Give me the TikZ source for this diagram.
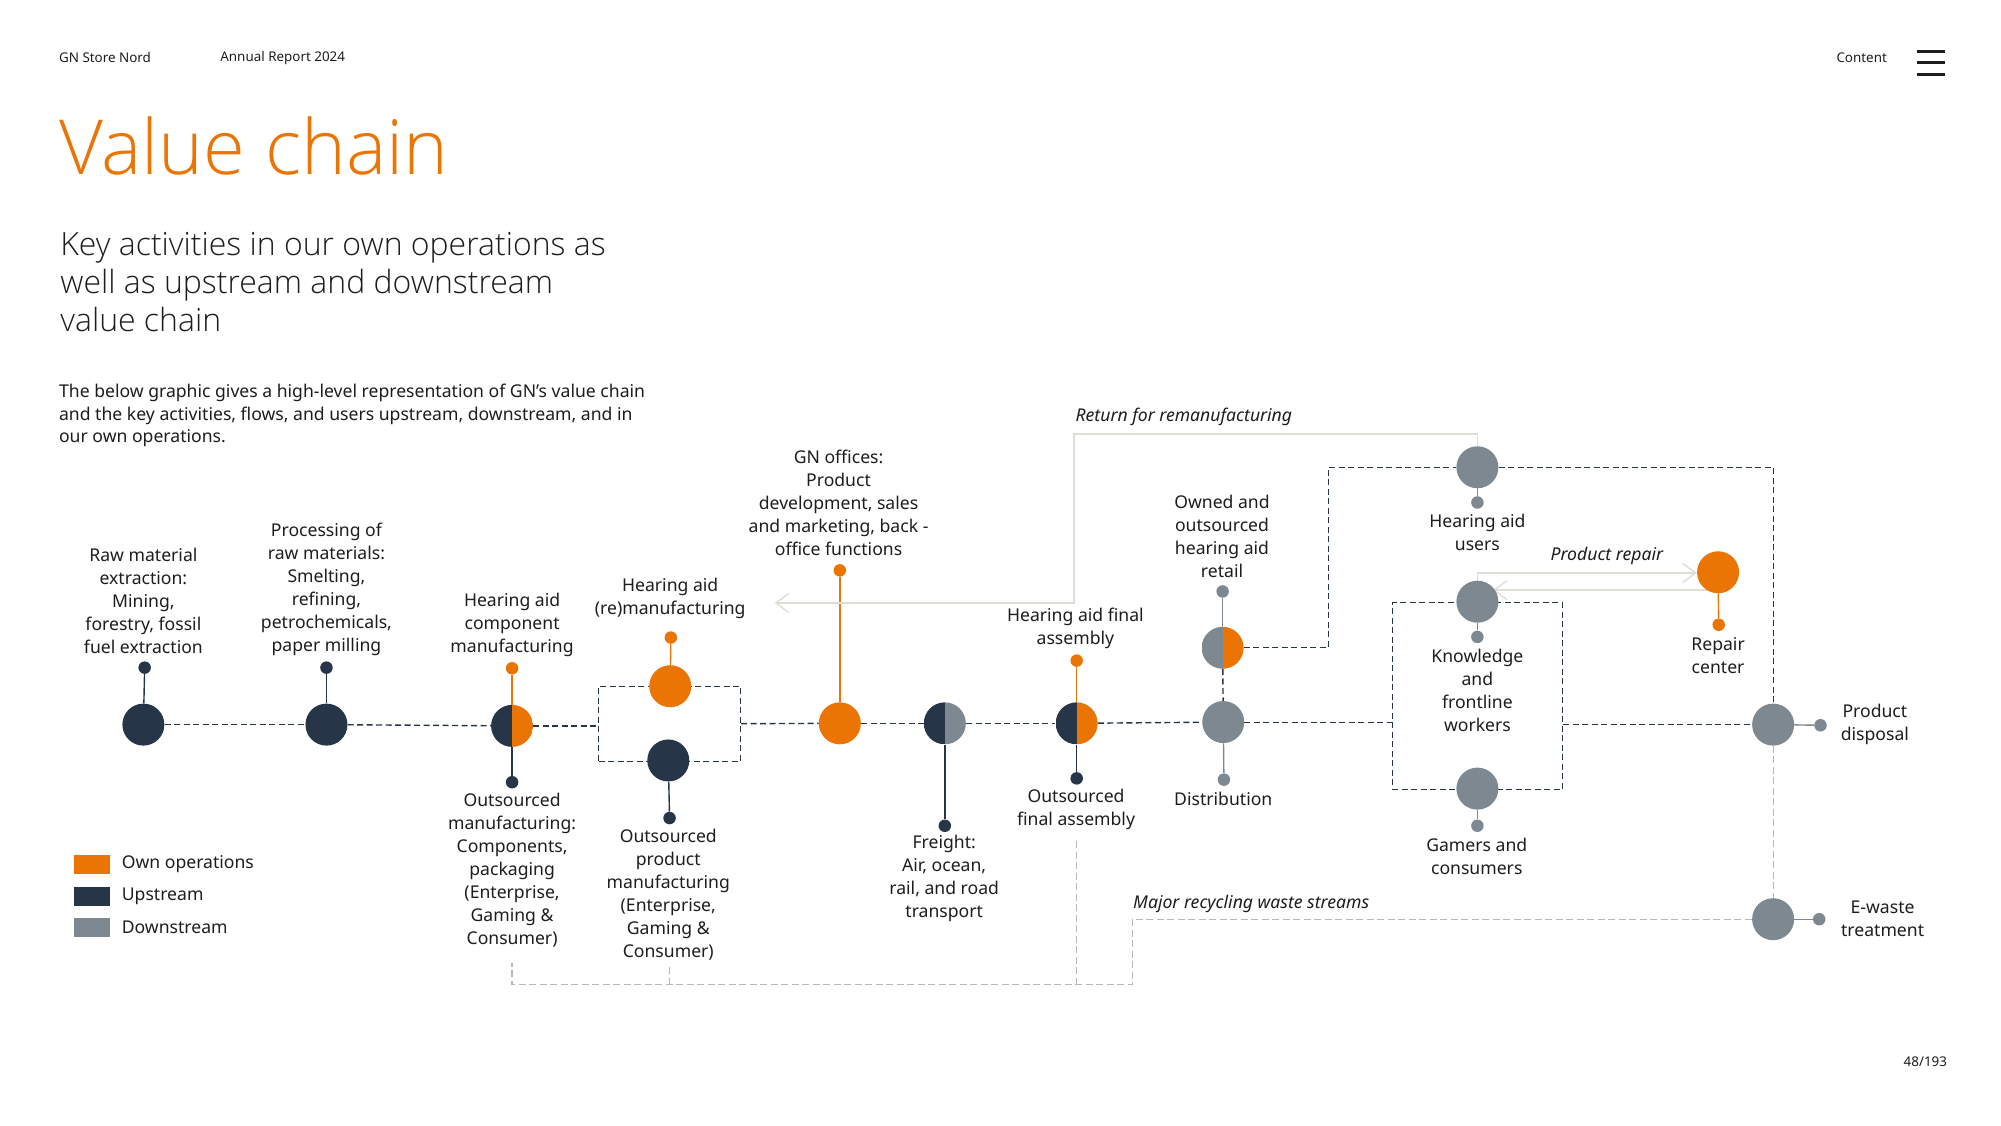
\documentclass[tikz,border=0pt]{standalone}
\usepackage{fontspec}
\usetikzlibrary{arrows.meta,backgrounds,calc}
\setmainfont{Noto Sans}
\newfontfamily\lightf{Open Sans Light}
\definecolor{own}{HTML}{EA7404}
\definecolor{up}{HTML}{263648}
\definecolor{down}{HTML}{7E8890}
\definecolor{flow}{HTML}{DEDDD6}
\definecolor{waste}{HTML}{BDB8AF}
\definecolor{ink}{HTML}{1D1D1B}
\tikzset{
  big/.style={circle,minimum size=42pt,inner sep=0pt,fill=#1},
  dot/.style={circle,minimum size=12.5pt,inner sep=0pt,fill=#1},
  split/.style 2 args={circle,minimum size=42pt,inner sep=0pt,path picture={
    \fill[#1] (path picture bounding box.south west) rectangle (path picture bounding box.north);
    \fill[#2] (path picture bounding box.south) rectangle (path picture bounding box.north east);}},
  stem/.style={draw=#1,line width=1.4pt},
  chain/.style={draw=up,line width=1.4pt,dash pattern=on 6pt off 3.5pt},
  thin chain/.style={draw=up,line width=1pt,dash pattern=on 6pt off 3.5pt},
  wastepath/.style={draw=waste,line width=1.2pt,dash pattern=on 7pt off 3.5pt},
  flowpath/.style={draw=flow,line width=1.6pt},
  barb/.style={-{Straight Barb[length=13pt,width=19pt,line width=1.4pt]}},
  lab/.style={align=center,inner sep=0pt,text=ink,font=\fontsize{17.6}{23}\selectfont},
  note/.style={anchor=west,inner sep=0pt,text=ink,font=\fontsize{17.6}{23}\selectfont\itshape},
  small/.style={inner sep=0pt,text=ink,font=\fontsize{13.4}{16}\selectfont},
  key/.style={anchor=west,inner sep=0pt,minimum width=36pt,minimum height=19pt,fill=#1},
  keytext/.style={anchor=west,inner sep=0pt,text=ink,font=\fontsize{17.6}{23}\selectfont},
}
\begin{document}
\begin{tikzpicture}[x=1.2802pt,y=-1.2802pt]
\useasboundingbox (0,0) rectangle (1563,878.8);
% header
\node[small,anchor=west] (hd1) at (46,45) {GN Store Nord};
\node[small,anchor=west] (hd2) at (172,45) {Annual Report 2024};
\node[small,anchor=east] (hd3) at (1474,45) {Content};
\node[small,anchor=east] (pg) at (1521,829) {48/193};
\draw[ink,line width=2.6pt] (1497,40)--(1519,40) (1497,49)--(1519,49) (1497,58)--(1519,58);
\node[anchor=west,inner sep=0pt,text=own,font=\lightf\fontsize{76}{80}\selectfont] (title) at (46,114) {Value chain};
\node[anchor=north west,align=left,inner sep=0pt,text=ink,font=\lightf\fontsize{32}{38}\selectfont] (sub) at (47,181) {Key activities in our own operations as\\well as upstream and downstream\\value chain};
\node[anchor=north west,align=left,inner sep=0pt,text=ink,font=\fontsize{17.6}{22.6}\selectfont] (intro) at (46,300) {The below graphic gives a high-level representation of GN’s value chain\\and the key activities, flows, and users upstream, downstream, and in\\our own operations.};
% legend
\node[key=own] (k1) at (58,675) {}; \node[keytext] (kt1) at (95,675) {Own operations};
\node[key=up] (k2) at (58,700.5) {}; \node[keytext] (kt2) at (95,700.5) {Upstream};
\node[key=down] (k3) at (58,724.5) {}; \node[keytext] (kt3) at (95,724.5) {Downstream};
% group boxes
\node[draw=up,line width=1.2pt,dash pattern=on 6pt off 3.5pt,minimum width=142pt,minimum height=75pt,inner sep=0pt] (box1) at (523,565.25) {};
\node[draw=up,line width=1pt,dash pattern=on 6pt off 3.5pt,minimum width=170.3pt,minimum height=186.3pt,inner sep=0pt] (box2) at (1154,543.75) {};
% main nodes
\node[big=up] (n1) at (112,566) {};
\node[big=up] (n2) at (255,566) {};
\node[split={up}{own}] (n3) at (400,567) {};
\node[big=own] (n4a) at (523.5,536) {};
\node[big=up] (n4b) at (522,594) {};
\node[big=own] (n5) at (656,565) {};
\node[split={up}{down}] (n6) at (738,565) {};
\node[split={up}{own}] (n7) at (841,565) {};
\node[split={down}{own}] (n8) at (955,506) {};
\node[big=down] (n9) at (955.5,564) {};
\node[big=down] (n10) at (1154,365) {};
\node[big=down] (n11) at (1154,470) {};
\node[big=down] (n12) at (1154,616) {};
\node[big=own] (n13) at (1342,447) {};
\node[big=down] (n14) at (1385,566) {};
\node[big=down] (n15) at (1385,718) {};
% dots
\node[dot=up] (d1) at (113,521.5) {};
\node[dot=up] (d2) at (255,521.5) {};
\node[dot=own] (d3a) at (400,522) {};
\node[dot=up] (d3b) at (400,611) {};
\node[dot=own] (d4a) at (524,498) {};
\node[dot=up] (d4b) at (523,639) {};
\node[dot=own] (d5) at (656,445.5) {};
\node[dot=up] (d6) at (738,645) {};
\node[dot=own] (d7a) at (841,516) {};
\node[dot=up] (d7b) at (841,608) {};
\node[dot=down] (d8) at (955,462) {};
\node[dot=down] (d9) at (956,609) {};
\node[dot=down] (d10) at (1154,392.5) {};
\node[dot=down] (d11) at (1154,497.5) {};
\node[dot=down] (d12) at (1154,645) {};
\node[dot=own] (d13) at (1342.5,488) {};
\node[dot=down] (d14) at (1422,566.5) {};
\node[dot=down] (d15) at (1421,718) {};
% labels
\node[lab] (t1) at (112,469) {Raw material\\extraction:\\Mining,\\forestry, fossil\\fuel extraction};
\node[lab] (t2) at (255,460) {Processing of\\raw materials:\\Smelting,\\refining,\\petrochemicals,\\paper milling};
\node[lab] (t3a) at (400,488.5) {Hearing aid\\component\\manufacturing};
\node[lab] (t3b) at (400,679.5) {Outsourced\\manufacturing:\\Components,\\packaging\\(Enterprise,\\Gaming \&\\Consumer)};
\node[lab] (t4a) at (523.5,467.5) {Hearing aid\\(re)manufacturing};
\node[lab] (t4b) at (522,698.5) {Outsourced\\product\\manufacturing\\(Enterprise,\\Gaming \&\\Consumer)};
\node[lab] (t5) at (655,393) {GN offices:\\Product\\development, sales\\and marketing, back -\\office functions};
\node[lab] (t6) at (737.5,686) {Freight:\\Air, ocean,\\rail, and road\\transport};
\node[lab] (t7a) at (840,491) {Hearing aid final\\assembly};
\node[lab] (t7b) at (840.5,632) {Outsourced\\final assembly};
\node[lab] (t8) at (954.5,419) {Owned and\\outsourced\\hearing aid\\retail};
\node[lab] (t9) at (955.5,624) {Distribution};
\node[lab] (t10) at (1154,416) {Hearing aid\\users};
\node[lab] (t11) at (1154,539.5) {Knowledge\\and\\frontline\\workers};
\node[lab] (t12) at (1153.5,669) {Gamers and\\consumers};
\node[lab] (t13) at (1342,512) {Repair\\center};
\node[lab] (t14) at (1464.5,566) {Product\\disposal};
\node[lab] (t15) at (1470.5,718) {E-waste\\treatment};
\node[note] (r1) at (840,326) {Return for remanufacturing};
\node[note] (r2) at (885,706) {Major recycling waste streams};
\node[note] (r3) at (1211,434) {Product repair};
% helper corners
\coordinate (c1) at (1037.5,435);
\coordinate (ret1) at (1154,339);
\coordinate (ret2) at (839,339);
\coordinate (ret3) at (839,471);
\coordinate (ret4) at (605,471);
\coordinate (rep1) at (1154,447.5);
\coordinate (rep2) at (1166,461);
\coordinate (w1) at (884.5,718);
\coordinate (w2) at (884.5,769);
\coordinate (w3) at (400,769);
\coordinate (w4) at (400,752);
\coordinate (w5) at (523,769);
\coordinate (w6) at (523,755);
\coordinate (w7) at (841,769);
\coordinate (w8) at (841,657);
\begin{scope}[on background layer]
\foreach \a/\b/\c in {n1/d1/up,n2/d2/up,n3/d3a/own,n3/d3b/up,n4a/d4a/own,n4b/d4b/up,n5/d5/own,n6/d6/up,n7/d7a/own,n7/d7b/up,n8/d8/down,n9/d9/down,n10/d10/down,n11/d11/down,n12/d12/down,n13/d13/own,n14/d14/down,n15/d15/down}
  \draw[stem=\c] (\a) -- (\b);
\draw[chain] (n1) -- (n2);
\draw[chain] (n2) -- (n3);
\draw[chain] (n3) -- (n3 -| box1.west);
\draw[chain] (box1.east) -- (n5);
\draw[chain] (n5) -- (n6);
\draw[chain] (n6) -- (n7);
\draw[chain] (n7) -- (n9);
\draw[thin chain] (n9) -- (n9 -| box2.west);
\draw[chain] (n14 -| box2.east) -- (n14);
\draw[chain] (n8) -- (n9);
\draw[thin chain] (n8) -| (c1) |- (n10);
\draw[thin chain] (n10) -| (n14);
\draw[wastepath] (n14) -- (n15);
\draw[wastepath] (n15) -- (w1) -- (w2) -- (w3) -- (w4);
\draw[wastepath] (w5) -- (w6);
\draw[wastepath] (w7) -- (w8);
\draw[flowpath,barb] (n10) -- (ret1) -- (ret2) -- (ret3) -- (ret4);
\draw[flowpath,barb] (n11) -- (rep1) -- (rep1 -| n13.west);
\draw[flowpath,barb] (n13) -- (rep2 -| n13) -- (rep2);
\end{scope}
\end{tikzpicture}
\end{document}
